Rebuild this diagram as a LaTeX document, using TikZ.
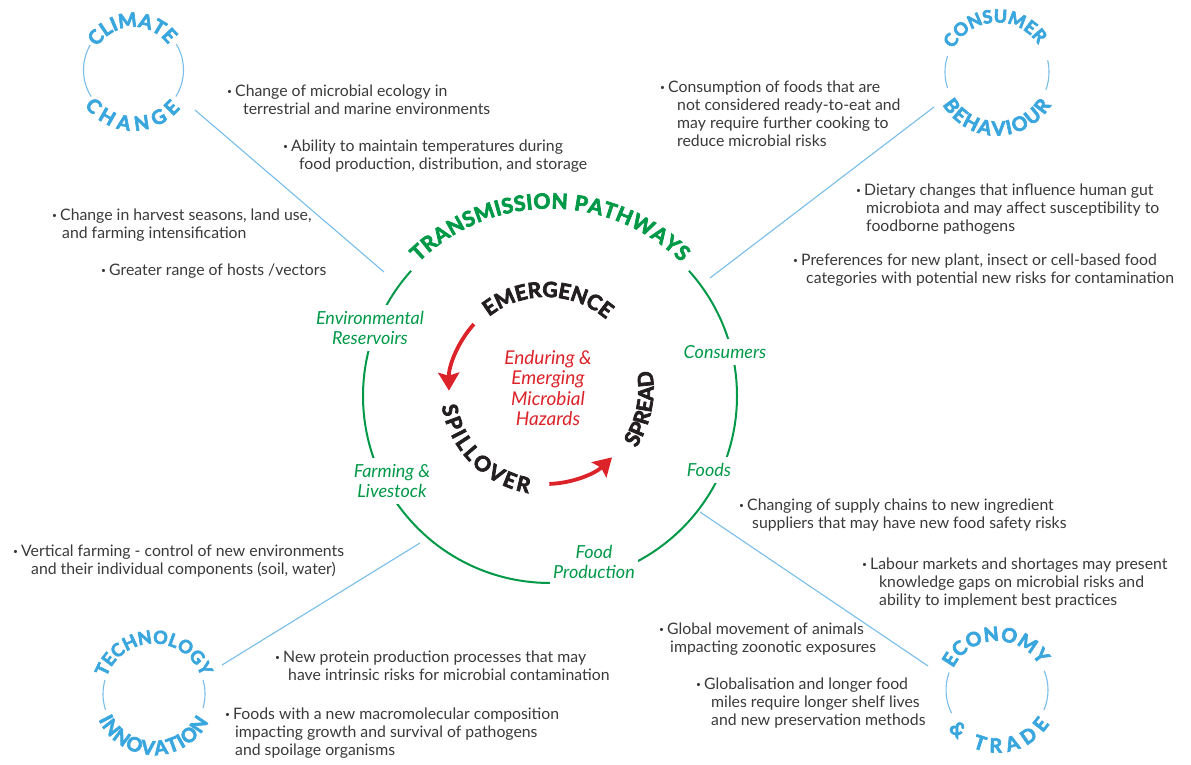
\documentclass[tikz,border=0pt]{standalone}
\usepackage{fontspec}
\setmainfont{Lato}
\newfontfamily\heavyfont{Lato}[BoldFeatures={FakeBold=3.5}]
\usetikzlibrary{decorations.text,arrows.meta}

\definecolor{bodygray}{RGB}{58,58,58}
\definecolor{pathgreen}{RGB}{0,153,72}
\definecolor{hazardred}{RGB}{220,35,42}
\definecolor{driverblue}{RGB}{58,166,222}
\definecolor{ringblue}{RGB}{120,190,232}
\definecolor{stageink}{RGB}{35,31,32}

% small bullet followed by the start of the item text
\newcommand{\bdot}{\makebox[8pt][l]{\raisebox{2.3pt}{\fontsize{8.5}{8.5}\selectfont •}}}
\newcommand{\ind}[1]{\hspace*{#1pt}}
\newcommand{\lines}[1]{\begin{tabular}[t]{@{}l@{}}#1\end{tabular}}
\newcommand{\driverfont}{\fontsize{18}{18}\selectfont\heavyfont\bfseries\color{driverblue}}
\newcommand{\driverfontL}{\fontsize{19.5}{19.5}\selectfont\heavyfont\bfseries\color{driverblue}}
\newcommand{\stagefont}{\fontsize{21}{21}\selectfont\heavyfont\bfseries\color{stageink}}
\newcommand{\ringfont}{\fontsize{21}{21}\selectfont\heavyfont\bfseries\color{pathgreen}}

\tikzset{
  note/.style={anchor=base west, inner sep=0pt, text=bodygray, font=\fontsize{15.8}{18}\selectfont},
  hublabel/.style={fill=white, text=pathgreen, font=\fontsize{18}{20}\selectfont\itshape, align=center, inner xsep=3pt, inner ysep=6pt},
  driverring/.style={draw=ringblue, line width=1.1pt},
  link/.style={draw=ringblue, line width=1.1pt},
  cyclearrow/.style={draw=hazardred, line width=3.8pt, -{Stealth[length=18pt,width=21pt,inset=3pt]}},
}

\begin{document}
\begin{tikzpicture}[x=1pt,y=1pt]
\useasboundingbox (0,0) rectangle (1191,765);
\fill[white] (0,0) rectangle (1191,765);

% ---------- centres ----------
\coordinate (hub) at (550,369);
\coordinate (core) at (546,376);
\coordinate (c1) at (133.5,695);
\coordinate (c2) at (997,693);
\coordinate (c3) at (154,71);
\coordinate (c4) at (997,75);

% ---------- links from the drivers to the pathway ring ----------
\coordinate (l1a) at (195,655); \coordinate (l1b) at (384,493);
\coordinate (l2a) at (934,658); \coordinate (l2b) at (710,487);
\coordinate (l3a) at (222,100); \coordinate (l3b) at (420,222);
\coordinate (l4a) at (700,253); \coordinate (l4b) at (928,99);
\draw[link] (l1a) -- (l1b);
\draw[link] (l2a) -- (l2b);
\draw[link] (l3a) -- (l3b);
\draw[link] (l4a) -- (l4b);

% ---------- transmission pathway ring ----------
\draw[pathgreen, line width=2pt] ([shift={(42:187)}]hub) arc[start angle=42, end angle=-222, radius=187];
\path[decorate, decoration={text along path, text align={fit to path},
  text={|\ringfont|TRANSMISSION PATHWAYS}}]
  ([shift={(134.5:187.5)}]hub) arc[start angle=134.5, end angle=45.5, radius=187.5];

\node[hublabel] (env) at (370,437) {Environmental\\Reservoirs};
\node[hublabel] (cons) at (725,413) {Consumers};
\node[hublabel] (foods) at (709,295) {Foods};
\node[hublabel] (farm) at (392,284) {Farming \&\\Livestock};
\node[hublabel] (prod) at (594,203) {Food\\Production};

% ---------- inner cycle ----------
\path[decorate, decoration={text along path, text align=center,
  text={|\stagefont|EMERGENCE}}]
  ([shift={(168.7:92)}]core) arc[start angle=168.7, end angle=8.7, radius=92];
\path[decorate, decoration={text along path, text align=center,
  text={|\stagefont|SPREAD}}]
  ([shift={(-81.6:107.5)}]core) arc[start angle=-81.6, end angle=58.3, radius=107.5];
\path[decorate, decoration={text along path, text align={fit to path},
  text={|\stagefont|SPILLOVER}}]
  ([shift={(189.3:105.5)}]core) arc[start angle=189.3, end angle=260.4, radius=105.5];

\draw[cyclearrow] ([shift={(138:97)}]core) arc[start angle=138, end angle=181, radius=97];
\draw[cyclearrow] ([shift={(272:95)}]core) arc[start angle=272, end angle=314, radius=95];

\node[text=hazardred, font=\fontsize{19}{20.5}\selectfont\itshape, align=center] (hazards) at (548,377)
  {Enduring \&\\Emerging\\Microbial\\Hazards};

% ---------- driver rings ----------
% climate change
\draw[driverring] ([shift={(150:50)}]c1) arc[start angle=150, end angle=212, radius=50];
\draw[driverring] ([shift={(-32:50)}]c1) arc[start angle=-32, end angle=31, radius=50];
\path[decorate, decoration={text along path, text align=center, text={|\driverfontL|CLIMATE}}]
  ([shift={(177:43)}]c1) arc[start angle=177, end angle=7, radius=43];
\path[decorate, decoration={text along path, text align={fit to path}, text={|\driverfontL|CHANGE}}]
  ([shift={(216:60.5)}]c1) arc[start angle=216, end angle=320.7, radius=60.5];

% consumer behaviour
\draw[driverring] ([shift={(162:52)}]c2) arc[start angle=162, end angle=198, radius=52];
\draw[driverring] ([shift={(-20:52)}]c2) arc[start angle=-20, end angle=13, radius=52];
\path[decorate, decoration={text along path, text align=center, text={|\driverfont|CONSUMER}}]
  ([shift={(178:49.5)}]c2) arc[start angle=178, end angle=8, radius=49.5];
\path[decorate, decoration={text along path, text align={fit to path}, text={|\driverfontL|BEHAVIOUR}}]
  ([shift={(211:63.5)}]c2) arc[start angle=211, end angle=328.6, radius=63.5];

% technology innovation
\draw[driverring] ([shift={(164:51)}]c3) arc[start angle=164, end angle=198, radius=51];
\draw[driverring] ([shift={(-16:51)}]c3) arc[start angle=-16, end angle=16, radius=51];
\path[decorate, decoration={text along path, text align=center, text={|\driverfont|TECHNOLOGY}}]
  ([shift={(175.3:50.5)}]c3) arc[start angle=175.3, end angle=5.3, radius=50.5];
\path[decorate, decoration={text along path, text align={fit to path}, text={|\driverfontL|INNOVATION}}]
  ([shift={(204.8:61)}]c3) arc[start angle=204.8, end angle=333, radius=61];

% economy and trade
\draw[driverring] ([shift={(160:51)}]c4) arc[start angle=160, end angle=207, radius=51];
\draw[driverring] ([shift={(-23:51)}]c4) arc[start angle=-23, end angle=22, radius=51];
\path[decorate, decoration={text along path, text align={fit to path}, text={|\driverfontL|ECONOMY}}]
  ([shift={(153.6:49)}]c4) arc[start angle=153.6, end angle=30.3, radius=49];
\path[decorate, decoration={text along path, text align={fit to path}, text={|\driverfontL|{\&} TRADE}}]
  ([shift={(218.7:62.5)}]c4) arc[start angle=218.7, end angle=327, radius=62.5];

% ---------- notes ----------
\node[note] (n1) at (227,668) {\lines{\bdot Change of microbial ecology in\\ \ind{16}terrestrial and marine environments}};
\node[note] (n2) at (283,613) {\lines{\bdot Ability to maintain temperatures during\\ \ind{16}food production, distribution, and storage}};
\node[note] (n3) at (52,544) {\lines{\bdot Change in harvest seasons, land use,\\ \ind{10}and farming intensification}};
\node[note] (n4) at (101,489) {\lines{\bdot Greater range of hosts /vectors}};
\node[note] (n5) at (660,672) {\lines{\bdot Consumption of foods that are\\ \ind{17}not considered ready-to-eat and\\ \ind{17}may require further cooking to\\ \ind{17}reduce microbial risks}};
\node[note] (n6) at (856,569) {\lines{\bdot Dietary changes that influence human gut\\ \ind{10}microbiota and may affect susceptibility to\\ \ind{10}foodborne pathogens}};
\node[note] (n7) at (793,499) {\lines{\bdot Preferences for new plant, insect or cell-based food\\ \ind{13}categories with potential new risks for contamination}};
\node[note] (n8) at (739,254) {\lines{\bdot Changing of supply chains to new ingredient\\ \ind{13}suppliers that may have new food safety risks}};
\node[note] (n9) at (862,195) {\lines{\bdot Labour markets and shortages may present\\ \ind{17}knowledge gaps on microbial risks and\\ \ind{17}ability to implement best practices}};
\node[note] (n10) at (13,208) {\lines{\bdot Vertical farming - control of new environments\\ \ind{18}and their individual components (soil, water)}};
\node[note] (n11) at (659,130) {\lines{\bdot Global movement of animals\\ \ind{11}impacting zoonotic exposures}};
\node[note] (n12) at (696,75) {\lines{\bdot Globalisation and longer food\\ \ind{15}miles require longer shelf lives\\ \ind{15}and new preservation methods}};
\node[note] (n13) at (275,102) {\lines{\bdot New protein production processes that may\\ \ind{13}have intrinsic risks for microbial contamination}};
\node[note] (n14) at (225,45) {\lines{\bdot Foods with a new macromolecular composition\\ \ind{10}impacting growth and survival of pathogens\\ \ind{10}and spoilage organisms}};

\end{tikzpicture}
\end{document}
